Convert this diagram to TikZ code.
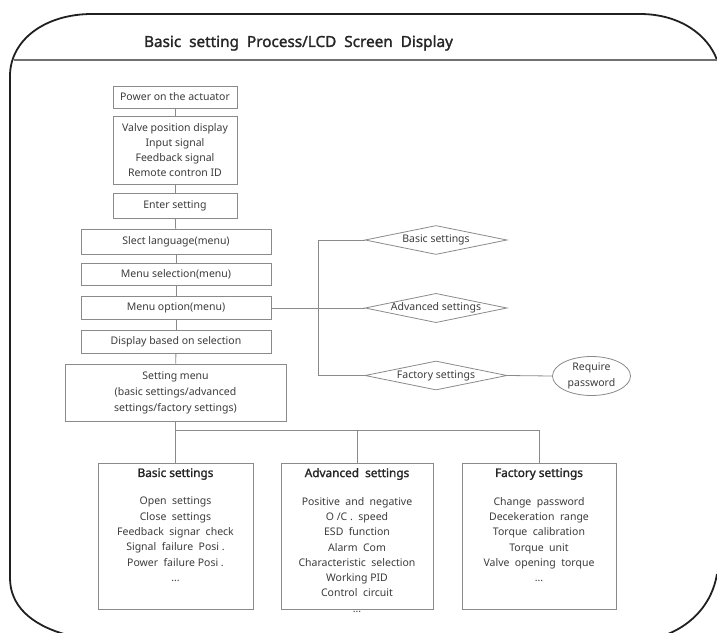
\documentclass[tikz,border=0pt]{standalone}
\usepackage{fontspec}
\setmainfont{Noto Sans}
\newfontfamily\boldf{Noto Sans}[FakeBold=1.6]
\usetikzlibrary{shapes.geometric}
\definecolor{boxline}{HTML}{8A8A8A}
\definecolor{txt}{HTML}{3C3C3C}
\definecolor{framecol}{HTML}{202020}
\definecolor{sepcol}{HTML}{707070}
\begin{document}
\begin{tikzpicture}[x=1pt,y=-1pt,
  box/.style={draw=boxline, line width=0.8pt, fill=white, text=txt,
    font=\fontsize{10.5}{15}\selectfont, align=center, inner sep=0pt},
  bigbox/.style={draw=boxline, line width=0.9pt, fill=white, inner sep=0pt,
    minimum height=146},
  conn/.style={draw=boxline, line width=0.8pt},
  dia/.style={diamond, draw=boxline, line width=0.8pt, aspect=4.8,
    minimum width=142, minimum height=29, inner sep=0pt, text=txt,
    font=\fontsize{10.5}{12}\selectfont},
  ell/.style={ellipse, draw=boxline, line width=0.8pt, minimum width=78,
    minimum height=39, inner sep=0pt, align=center, text=txt,
    font=\fontsize{10.5}{16}\selectfont},
  ttl/.style={font=\boldf\fontsize{11.8}{13}\selectfont, text=black!85},
  items/.style={anchor=north, align=center, inner sep=0pt, text=txt,
    font=\fontsize{10.5}{15.3}\selectfont},
  frame/.style={draw=framecol, line width=1.8pt},
]
\useasboundingbox (0,0) rectangle (717,632);

% outer frame
\draw[frame] (64,634) .. controls (30,624) and (10,605) .. (10,578)
  -- (10,76) .. controls (10,40) and (45,14) .. (92,14) -- (640,14)
  .. controls (680,14) and (708,35) .. (717,60);
\draw[frame] (717,574) .. controls (712,604) and (692,624) .. (668,634);
\draw[draw=sepcol, line width=2.2pt] (14,60) -- (717,60);
\node[font=\boldf\fontsize{15.3}{17}\selectfont, text=black!85] (title) at (298.5,43)
  {Basic\ \ setting\ \ Process/LCD\ \ Screen\ \ Display};

% left column
\node[box, minimum width=124, minimum height=22] (power) at (175,97) {Power on the actuator};
\node[box, minimum width=124, minimum height=68] (valve) at (175,150.5)
  {Valve position display\\Input signal\\Feedback signal\\Remote contron ID};
\node[box, minimum width=124, minimum height=25] (enter) at (175,205.5) {Enter setting};
\node[box, minimum width=190, minimum height=25] (lang) at (176,241.5) {Slect language(menu)};
\node[box, minimum width=190, minimum height=22] (msel) at (176,274) {Menu selection(menu)};
\node[box, minimum width=190, minimum height=23] (mopt) at (176,308) {Menu option(menu)};
\node[box, minimum width=190, minimum height=23] (disp) at (176,341.5) {Display based on selection};
\node[box, minimum width=221, minimum height=57, font=\fontsize{10.5}{16}\selectfont]
  (setm) at (175.5,392.5)
  {Setting menu\\(basic settings/advanced\\settings/factory settings)};

\draw[conn] (power) -- (valve);
\draw[conn] (valve) -- (enter);
\draw[conn] (enter) -- (lang);
\draw[conn] (lang) -- (msel);
\draw[conn] (msel) -- (mopt);
\draw[conn] (mopt) -- (disp);
\draw[conn] (disp) -- (setm);

% right branch
\node[dia] (dbasic) at (436,240) {Basic settings};
\node[dia] (dadv) at (436,308) {Advanced settings};
\node[dia] (dfac) at (436,375.5) {Factory settings};
\node[ell] (pw) at (591.5,376) {Require\\password};
\coordinate (vtop) at (318,240);
\coordinate (vbot) at (318,375.5);
\draw[conn] (mopt.east) -- (dadv.west);
\draw[conn] (dbasic.west) -- (vtop) -- (vbot) -- (dfac.west);
\draw[conn] (dfac.east) -- (pw.west);

% bottom boxes
\node[bigbox, minimum width=155] (bbox) at (175.5,536) {};
\node[bigbox, minimum width=152] (abox) at (357,536) {};
\node[bigbox, minimum width=154] (fbox) at (539,536) {};
\coordinate (hl) at (175.5,430);
\coordinate (hr) at (539,430);
\draw[conn] (setm.south) -- (bbox.north);
\draw[conn] (hl) -- (hr) -- (fbox.north);
\draw[conn] (abox.north |- hl) -- (abox.north);

\node[ttl] (bt) at (175.5,474) {Basic settings};
\node[items] (bl) at (175.5,497)
  {Open\ \ settings\\Close\ \ settings\\Feedback\ \ signar\ \ check\\Signal\ \ failure\ \ Posi .\\Power\ \ failure Posi .\\…};
\node[ttl] (at) at (357,474) {Advanced\ \ settings};
\node[items] (al) at (357,497)
  {Positive\ \ and\ \ negative\\O /C .\ \ speed\\ESD\ \ function\\Alarm\ \ Com\\Characteristic\ \ selection\\Working PID\\Control\ \ circuit\\…};
\node[ttl] (ft) at (539,474) {Factory settings};
\node[items] (fl) at (539,497)
  {Change\ \ password\\Decekeration\ \ range\\Torque\ \ calibration\\Torque\ \ unit\\Valve\ \ opening\ \ torque\\…};
\end{tikzpicture}
\end{document}
